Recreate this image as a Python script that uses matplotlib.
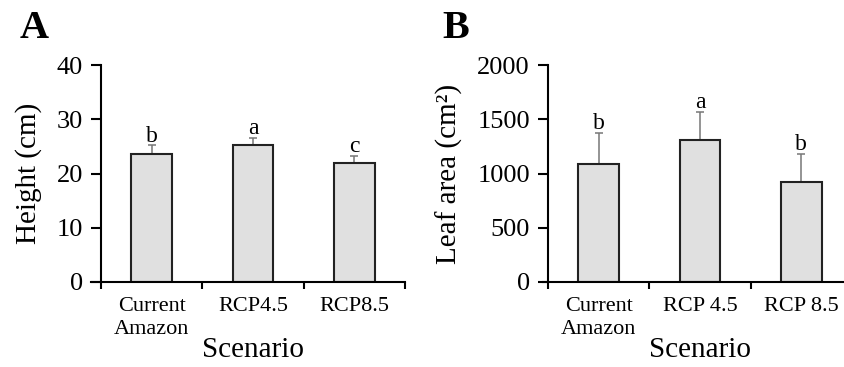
import matplotlib as mpl
mpl.use('Agg')
import matplotlib.pyplot as plt

plt.rcParams['font.family'] = ['Liberation Serif', 'DejaVu Serif']

scenarios_a = ['Current\nAmazon', 'RCP4.5', 'RCP8.5']
scenarios_b = ['Current\nAmazon', 'RCP 4.5', 'RCP 8.5']
height = [23.6, 25.2, 21.9]
height_err = [1.6, 1.4, 1.4]
height_sig = ['b', 'a', 'c']
leaf_area = [1085, 1309, 919]
leaf_area_err = [291, 261, 261]
leaf_area_sig = ['b', 'a', 'b']

W, H = 845, 367
fig = plt.figure(figsize=(W / 100, H / 100), dpi=100)


def panel(rect, labels, vals, errs, sig, ymax, step, ylabel, letter, ylab_x, letter_x):
    ax = fig.add_axes(rect)
    x = [1, 2, 3]
    ax.bar(x, vals, width=0.4, color='#e0e0e0', edgecolor='#222222', linewidth=1.5, zorder=2)
    ax.errorbar(x, vals, yerr=[[0] * 3, errs], fmt='none', ecolor='#777777',
                elinewidth=1.1, capsize=3, capthick=1.1, zorder=1)
    for xi, v, e, s in zip(x, vals, errs, sig):
        ax.annotate(s, (xi, v + e), xytext=(0, -1), textcoords='offset points',
                    ha='center', va='bottom', fontsize=17)
    ax.set_xlim(0.5, 3.5)
    ax.set_ylim(0, ymax)
    ax.set_yticks(range(0, ymax + 1, step))
    ax.set_xticks([0.5, 1.5, 2.5, 3.5])
    ax.set_xticklabels([])
    ax.set_xticks(x, minor=True)
    ax.set_xticklabels(labels, minor=True, fontsize=16, linespacing=1.25)
    ax.tick_params(axis='x', which='minor', length=0, pad=11)
    ax.tick_params(axis='x', which='major', length=5, width=1.5, direction='out')
    ax.tick_params(axis='y', length=7, width=1.5, labelsize=19, pad=6)
    for s in ['top', 'right']:
        ax.spines[s].set_visible(False)
    for s in ['left', 'bottom']:
        ax.spines[s].set_linewidth(1.5)
    ax.spines['bottom'].set_bounds(0.4, 3.5)
    ax.set_ylabel(ylabel, fontsize=21)
    ax.yaxis.set_label_coords(ylab_x, 0.5)
    ax.set_xlabel('Scenario', fontsize=21)
    ax.xaxis.set_label_coords(0.5, -0.255)
    fig.text(letter_x / W, 1 - 38 / H, letter, fontsize=29, fontweight='bold')
    return ax


panel([101 / W, 1 - 282 / H, 304 / W, 217 / H], scenarios_a, height, height_err,
      height_sig, 40, 10, 'Height (cm)', 'A', -0.195, 20)
ax = panel([548 / W, 1 - 282 / H, 304 / W, 217 / H], scenarios_b, leaf_area, leaf_area_err,
           leaf_area_sig, 2000, 500, 'Leaf area (cm\u00b2)', 'B', -0.28, 442)
ax.spines['bottom'].set_bounds(0.45, 3.5)

fig.savefig('out.png', dpi=100)
